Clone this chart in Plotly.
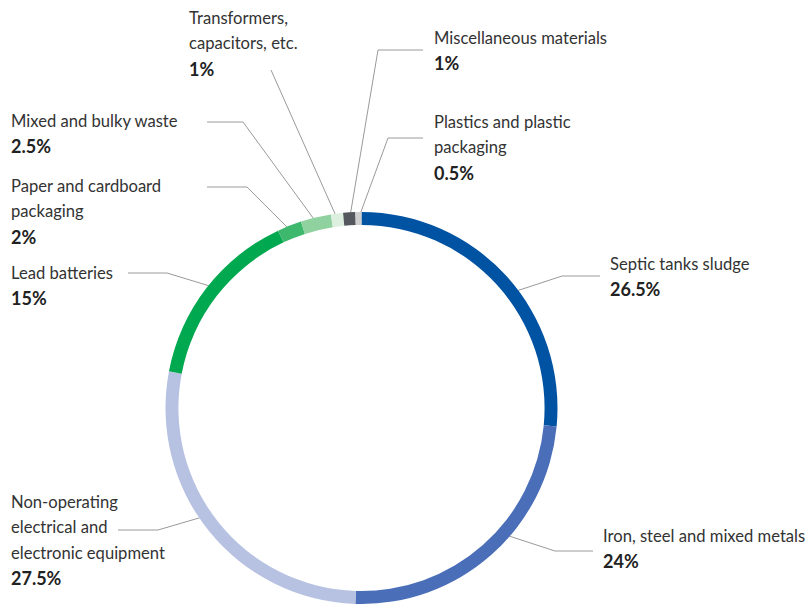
import numpy as np
import plotly.graph_objects as go

# ---- data ----
categories = [
    "Septic tanks sludge",
    "Iron, steel and mixed metals",
    "Non-operating electrical and electronic equipment",
    "Lead batteries",
    "Paper and cardboard packaging",
    "Mixed and bulky waste",
    "Transformers, capacitors, etc.",
    "Miscellaneous materials",
    "Plastics and plastic packaging",
]
shares = [26.5, 24, 27.5, 15, 2, 2.5, 1, 1, 0.5]
pct_labels = ["26.5%", "24%", "27.5%", "15%", "2%", "2.5%", "1%", "1%", "0.5%"]
label_lines = [
    ["Septic tanks sludge"],
    ["Iron, steel and mixed metals"],
    ["Non-operating", "electrical and", "electronic equipment"],
    ["Lead batteries"],
    ["Paper and cardboard", "packaging"],
    ["Mixed and bulky waste"],
    ["Transformers,", "capacitors, etc."],
    ["Miscellaneous materials"],
    ["Plastics and plastic", "packaging"],
]

# ---- style / layout ----
colors = ["#0052a2", "#4a6fb8", "#b7c2e2", "#00a84f", "#3db86c",
          "#8fd19f", "#ddefdf", "#55595f", "#cfcfcf"]
W, H = 812, 604
cx, cy = 361.5, 408.0
r_out = 196.0
hole = 0.934
r_mid = r_out * (1 + hole) / 2
dot_frac = [0.55, 0.42, 0.54, 0.53, 0.5, 0.5, 0.5, 0.5, 0.5]
leader_paths = [
    [(562, 276), (600, 276)],
    [(555, 551), (593, 551)],
    [(158, 530), (118, 530)],
    [(167, 273), (128, 273)],
    [(247, 187), (207, 187)],
    [(243, 122), (207, 122)],
    [(271, 70)],
    [(378, 50), (423, 50)],
    [(388, 138), (423, 138)],
]
label_pos = [
    (608, 264), (601, 536), (9, 502), (9, 273), (9, 186),
    (9, 121), (187, 18), (432, 38), (432, 122),
]
line_gap = 25.3
font_family = "Lato, Roboto, Liberation Sans, sans-serif"
text_col = "#333333"

fig = go.Figure()
fig.add_trace(go.Pie(
    values=shares, labels=categories, hole=hole, sort=False,
    direction="clockwise", rotation=0,
    marker=dict(colors=colors, line=dict(width=0)),
    textinfo="none", hoverinfo="label+percent", showlegend=False,
    domain=dict(x=[(cx - r_out) / W, (cx + r_out) / W],
                y=[(H - cy - r_out) / H, (H - cy + r_out) / H]),
))

total = float(sum(shares))
cum = np.concatenate([[0], np.cumsum(shares)])
annotations = []
for i, v in enumerate(shares):
    frac = (cum[i] + dot_frac[i] * v) / total
    th = 2 * np.pi * frac
    dx = cx + r_mid * np.sin(th)
    dy = cy - r_mid * np.cos(th)
    xs = [dx] + [p[0] for p in leader_paths[i]]
    ys = [dy] + [p[1] for p in leader_paths[i]]
    fig.add_trace(go.Scatter(x=xs, y=ys, mode="lines",
                             line=dict(color="#9a9a9a", width=1),
                             hoverinfo="skip", showlegend=False))
    fig.add_trace(go.Scatter(x=[dx], y=[dy], mode="markers",
                             marker=dict(color="#9a9a9a", size=6),
                             hoverinfo="skip", showlegend=False))
    lx, ly = label_pos[i]
    lines = label_lines[i] + ["<b>" + pct_labels[i] + "</b>"]
    for k, t in enumerate(lines):
        last = k == len(lines) - 1
        annotations.append(dict(
            x=lx, y=ly + k * line_gap, xref="x", yref="y", text=t,
            showarrow=False, xanchor="left", yanchor="middle",
            font=dict(family=font_family, size=18 if last else 16.6,
                      color="#222222" if last else text_col),
        ))

fig.update_layout(
    width=W, height=H, margin=dict(l=0, r=0, t=0, b=0),
    paper_bgcolor="white", plot_bgcolor="rgba(0,0,0,0)",
    xaxis=dict(range=[0, W], visible=False, fixedrange=True),
    yaxis=dict(range=[H, 0], visible=False, fixedrange=True),
    annotations=annotations,
)
fig.write_html("out.html", config={"displayModeBar": False},
               post_script="document.body.style.margin='0';document.body.style.overflow='hidden';")
